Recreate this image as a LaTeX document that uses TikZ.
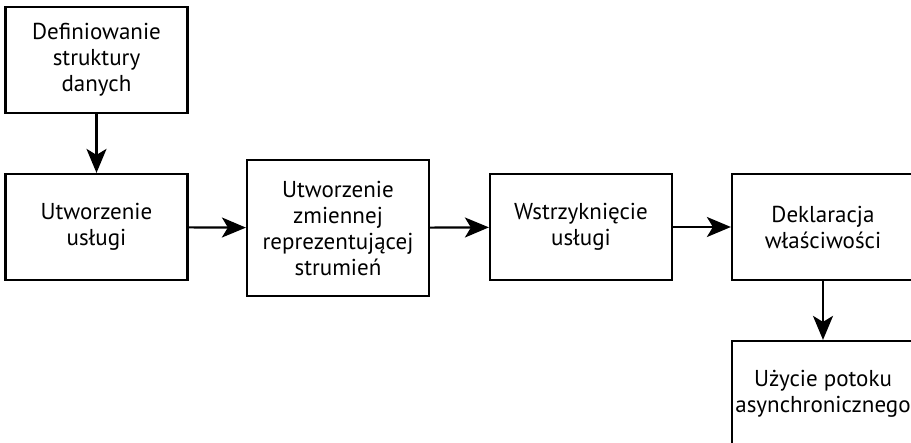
\documentclass[tikz,border=0pt]{standalone}
\usepackage{fontspec}
\setmainfont{PT Sans}
\usetikzlibrary{arrows.meta}
\begin{document}
\begin{tikzpicture}[x=1pt,y=-1pt,
  box/.style={draw,line width=2.2pt,minimum width=182pt,minimum height=106pt,inner sep=0pt,align=center,
    font=\fontsize{23}{26}\selectfont},
  tall/.style={box,minimum height=136pt},
  arr/.style={line width=2.2pt,-{Stealth[length=24pt,width=20pt,inset=6pt]}}]
\clip (0,0) rectangle (911,443);
\fill[white] (0,0) rectangle (911,443);
\node[box] (a) at (96.5,60) {Definiowanie\\struktury\\danych};
\node[box] (b) at (96.5,227) {Utworzenie\\usługi};
\node[tall] (c) at (338,228) {Utworzenie\\zmiennej\\reprezentującej\\strumień};
\node[box] (d) at (581,227) {Wstrzyknięcie\\usługi};
\node[box] (e) at (823,227) {Deklaracja\\właściwości};
\node[box] (f) at (823,394) {Użycie potoku\\asynchronicznego};
\draw[arr] (a) -- (b);
\draw[arr] (b) -- (c);
\draw[arr] (c) -- (d);
\draw[arr] (d) -- (e);
\draw[arr] (e) -- (f);
\end{tikzpicture}
\end{document}
